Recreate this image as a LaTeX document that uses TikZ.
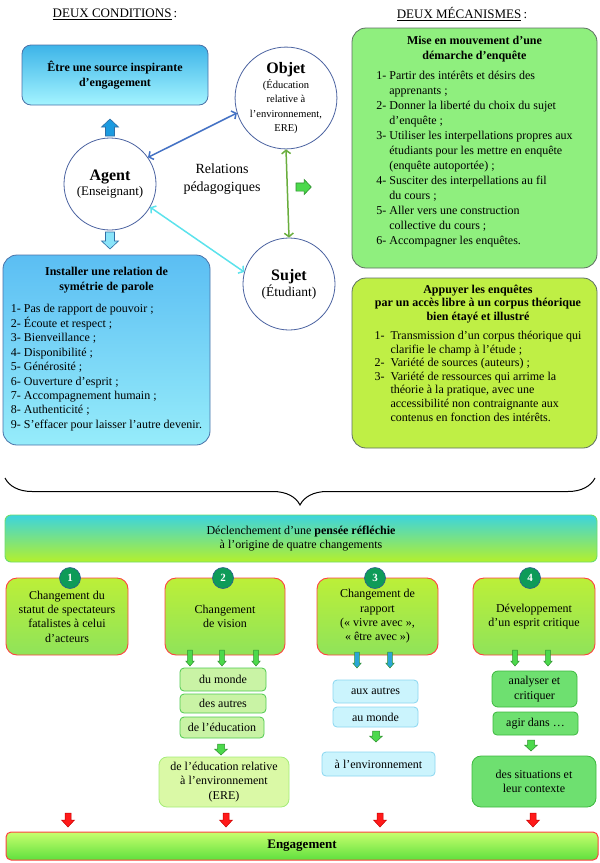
\documentclass[tikz,border=0pt]{standalone}
\usepackage{fontspec}
\setmainfont{Liberation Serif}
\usetikzlibrary{positioning,arrows.meta,decorations.pathreplacing}

\definecolor{bleuHaut}{HTML}{3DB4E8}
\definecolor{bleuBas}{HTML}{A4F4FF}
\definecolor{bordBleu}{HTML}{4A72A8}
\definecolor{flecheBleue}{HTML}{1C9BE0}
\definecolor{flecheCyan}{HTML}{8AE4FA}
\definecolor{bordFleche}{HTML}{2F6EA5}
\definecolor{paroleHaut}{HTML}{5BBEF3}
\definecolor{paroleBas}{HTML}{96ECFA}
\definecolor{cercleBord}{HTML}{4A62A0}
\definecolor{vertClair}{HTML}{8FEF7E}
\definecolor{bordGris}{HTML}{5E6E63}
\definecolor{jauneVert}{HTML}{BFEF45}
\definecolor{relBleu}{HTML}{4472C4}
\definecolor{relCyan}{HTML}{5CE2EC}
\definecolor{relVert}{HTML}{6AAE3E}
\definecolor{flecheVerte}{HTML}{4CD94C}
\definecolor{bordVert}{HTML}{2F8F2F}
\definecolor{banniereHaut}{HTML}{3CD4DE}
\definecolor{banniereMilieu}{HTML}{6FDFA0}
\definecolor{banniereBas}{HTML}{B4F02C}
\definecolor{bordBanniere}{HTML}{6CDC6C}
\definecolor{chgHaut}{HTML}{BCEF38}
\definecolor{chgBas}{HTML}{8FE35A}
\definecolor{bordRouge}{HTML}{FF4040}
\definecolor{numVert}{HTML}{0E9B58}
\definecolor{numBord}{HTML}{2B5C8E}
\definecolor{sousVert}{HTML}{C9F3A5}
\definecolor{bordSousVert}{HTML}{4FC94F}
\definecolor{ereFond}{HTML}{DAF9A6}
\definecolor{ereBord}{HTML}{A5EC78}
\definecolor{sousCyan}{HTML}{CBF4FD}
\definecolor{bordCyan}{HTML}{8AD6F0}
\definecolor{sousVertFonce}{HTML}{6EE070}
\definecolor{bordVertFonce}{HTML}{3DB83F}
\definecolor{flecheTeal}{HTML}{2AA6D6}
\definecolor{rougeFleche}{HTML}{FF1A1A}
\definecolor{bordRougeFonce}{HTML}{C80000}
\definecolor{engHaut}{HTML}{C8FF6E}
\definecolor{engBas}{HTML}{5FE03E}

\def\grand{\fontsize{16}{18}\selectfont\bfseries}
\def\petit{\fontsize{10.5}{12.8}\selectfont}

\begin{document}
\begin{tikzpicture}[x=1pt, y=-1pt,
    every node/.style = {font=\fontsize{12}{14.4}\selectfont, inner sep=0pt, align=center},
    titre/.style = {font=\fontsize{13}{15}\selectfont},
    cercle/.style = {circle, draw=cercleBord, line width=0.8pt, fill=white},
    boite/.style = {rectangle, rounded corners=14pt, draw=bordGris, line width=0.8pt},
    changement/.style = {rectangle, rounded corners=11pt, draw=bordRouge, line width=0.9pt,
                         top color=chgHaut, bottom color=chgBas, minimum height=77pt},
    numero/.style = {circle, fill=numVert, draw=numBord, line width=0.6pt, text=white,
                     minimum size=21pt, font=\fontsize{11}{12}\selectfont\bfseries},
    petite/.style = {rectangle, rounded corners=4pt, line width=0.8pt},
    relation/.style = {line width=1.5pt, {Straight Barb[length=3.5pt,width=9pt]}-{Straight Barb[length=3.5pt,width=9pt]}},
    grosseFleche/.pic = {\draw[pic actions, line width=0.6pt] (-4.5,0) -- (4.5,0) -- (4.5,9) -- (8.5,9)
                         -- (0,17) -- (-8.5,9) -- (-4.5,9) -- cycle;},
    fineFleche/.pic = {\draw[pic actions, line width=0.5pt] (-2.3,0) -- (2.3,0) -- (2.3,11) -- (4.3,11)
                       -- (0,16) -- (-4.3,11) -- (-2.3,11) -- cycle;},
    courteFleche/.pic = {\draw[pic actions, line width=0.5pt] (-3.5,0) -- (3.5,0) -- (3.5,5) -- (6.5,5)
                         -- (0,11) -- (-6.5,5) -- (-3.5,5) -- cycle;},
    rougeFl/.pic = {\draw[pic actions, line width=0.5pt] (-3,0) -- (3,0) -- (3,7) -- (6.5,7)
                    -- (0,14) -- (-6.5,7) -- (-3,7) -- cycle;}]

\useasboundingbox (0,0) rectangle (600,863);

% titres
\node[titre] (titreCond) at (115,14) {\underline{DEUX CONDITIONS}\,:};
\node[titre] (titreMeca) at (462,14) {\underline{DEUX MÉCANISMES}\,:};

% les deux conditions
\node[rectangle, rounded corners=9pt, draw=bordBleu, line width=0.8pt, top color=bleuHaut,
      bottom color=bleuBas, minimum width=186pt, minimum height=60pt] (source) at (115,75)
      {\bfseries Être une source inspirante\\ \bfseries d’engagement};
\pic[fill=flecheBleue, draw=bordFleche, rotate=180] at (110,136) {grosseFleche};

\node[cercle, minimum size=92pt] (agent) at (110,184)
      {\grand Agent\\ \fontsize{13}{15}\selectfont (Enseignant)};
\pic[fill=flecheCyan, draw=bordFleche] at (110,232) {grosseFleche};

\node[rectangle, rounded corners=14pt, draw=bordBleu, line width=0.8pt, top color=paroleHaut,
      bottom color=paroleBas, minimum width=207pt, minimum height=190pt] (parole) at (106.5,350)
      {\bfseries Installer une relation de\\ \bfseries symétrie de parole\\[9pt]
       \begin{tabular}{@{}l@{}}
       1- Pas de rapport de pouvoir ;\\
       2- Écoute et respect ;\\
       3- Bienveillance ;\\
       4- Disponibilité ;\\
       5- Générosité ;\\
       6- Ouverture d’esprit ;\\
       7- Accompagnement humain ;\\
       8- Authenticité ;\\
       9- S’effacer pour laisser l’autre devenir.
       \end{tabular}};

% relations pedagogiques
\node[cercle, minimum size=89pt] (objet) at (286,98)
      {\grand Objet\\[1pt] \petit (Éducation\\ \petit relative à\\ \petit l’environnement,\\ \petit ERE)};
\node[cercle, minimum size=92pt] (sujet) at (289,284)
      {\grand Sujet\\ \fontsize{13.5}{16}\selectfont (Étudiant)};
\node[font=\fontsize{14}{18}\selectfont] (relations) at (222,179) {Relations\\ pédagogiques};

\draw[relation, relBleu] (agent.35) -- (objet.197);
\draw[relation, relCyan] (agent.-30) -- (sujet.165);
\draw[relation, relVert] (objet.south) -- (sujet.north);
\pic[fill=flecheVerte, draw=bordVert, rotate=90, scale=0.9] at (296,187) {grosseFleche};

% les deux mecanismes
\node[boite, fill=vertClair, minimum width=245pt, minimum height=240pt] (enquete) at (474.5,148) {};
\node[font=\fontsize{12}{15}\selectfont] (enqueteTexte) at (474.5,142.5)
      {\bfseries Mise en mouvement d’une\\ \bfseries démarche d’enquête\\[6pt]
       \begin{tabular}{@{}l@{\ }l@{}}
       1- & Partir des intérêts et désirs des\\
          & apprenants ;\\
       2- & Donner la liberté du choix du sujet\\
          & d’enquête ;\\
       3- & Utiliser les interpellations propres aux\\
          & étudiants pour les mettre en enquête\\
          & (enquête autoportée) ;\\
       4- & Susciter des interpellations au fil\\
          & du cours ;\\
       5- & Aller vers une construction\\
          & collective du cours ;\\
       6- & Accompagner les enquêtes.
       \end{tabular}};

\node[boite, fill=jauneVert, minimum width=245pt, minimum height=170pt] (appui) at (474.5,363) {};
\node[font=\fontsize{12}{13.6}\selectfont] (appuiTexte) at (478,355)
      {\bfseries Appuyer les enquêtes\\ \bfseries par un accès libre à un corpus théorique\\
       \bfseries bien étayé et illustré\\[6pt]
       \begin{tabular}{@{}l@{\hspace{6pt}}l@{}}
       1- & Transmission d’un corpus théorique qui\\
          & clarifie le champ à l’étude ;\\
       2- & Variété de sources (auteurs) ;\\
       3- & Variété de ressources qui arrime la\\
          & théorie à la pratique, avec une\\
          & accessibilité non contraignante aux\\
          & contenus en fonction des intérêts.
       \end{tabular}};

% accolade
\coordinate (accG) at (5,478);
\coordinate (accD) at (595,478);
\draw[decorate, decoration={brace, amplitude=27pt, mirror}, line width=1pt] (accG) -- (accD);

% pensee reflechie
\node[rectangle, rounded corners=6pt, draw=bordBanniere, line width=0.9pt, top color=banniereHaut,
      middle color=banniereMilieu, bottom color=banniereBas, minimum width=592pt,
      minimum height=47pt] (pensee) at (301,538.5)
      {Déclenchement d’une \textbf{pensée réfléchie}\\ à l’origine de quatre changements};

% quatre changements
\node[changement, minimum width=122pt] (chg1) at (67,616.5)
      {Changement du\\ statut de spectateurs\\ fatalistes à celui\\ d’acteurs};
\node[changement, minimum width=120pt] (chg2) at (225,616.5) {Changement\\ de vision};
\node[changement, minimum width=121pt] (chg3) at (377.5,616.5)
      {Changement de\\ rapport\\ («~vivre avec~»,\\ «~être avec~»)};
\node[changement, minimum width=122pt] (chg4) at (534,616.5) {Développement\\ d’un esprit critique};

\node[numero] (num1) at (70,578) {1};
\node[numero] (num2) at (223,578) {2};
\node[numero] (num3) at (375,578) {3};
\node[numero] (num4) at (530,578) {4};

% changement de vision
\pic[fill=flecheVerte, draw=bordVert] at (190,650) {fineFleche};
\pic[fill=flecheVerte, draw=bordVert] at (222,650) {fineFleche};
\pic[fill=flecheVerte, draw=bordVert] at (256,650) {fineFleche};
\node[petite, fill=sousVert, draw=bordSousVert, minimum width=86pt, minimum height=23pt] (monde) at (223,679.5) {du monde};
\node[petite, fill=sousVert, draw=bordSousVert, minimum width=86pt, minimum height=19pt] (autres) at (223,703.5) {des autres};
\node[petite, fill=sousVert, draw=bordSousVert, minimum width=84pt, minimum height=21pt] (education) at (222,727.5) {de l’éducation};
\pic[fill=flecheVerte, draw=bordVert] at (221,744) {courteFleche};
\node[petite, rounded corners=8pt, fill=ereFond, draw=ereBord, minimum width=130pt, minimum height=50pt] (ere) at (224,782)
      {de l’éducation relative\\ à l’environnement\\ (ERE)};

% changement de rapport
\pic[fill=flecheTeal, draw=bordVert] at (357,652) {fineFleche};
\pic[fill=flecheTeal, draw=bordVert] at (390,652) {fineFleche};
\node[petite, fill=sousCyan, draw=bordCyan, minimum width=85pt, minimum height=23pt] (auxAutres) at (375.5,691.5) {aux autres};
\node[petite, fill=sousCyan, draw=bordCyan, minimum width=85pt, minimum height=20pt] (auMonde) at (375.5,717) {au monde};
\pic[fill=flecheVerte, draw=bordVert] at (376,731) {courteFleche};
\node[petite, fill=sousCyan, draw=bordCyan, minimum width=113pt, minimum height=24pt] (environnement) at (378.5,764) {à l’environnement};

% esprit critique
\pic[fill=flecheVerte, draw=bordVert] at (515,650) {fineFleche};
\pic[fill=flecheVerte, draw=bordVert] at (548,650) {fineFleche};
\node[petite, rounded corners=6pt, fill=sousVertFonce, draw=bordVertFonce, minimum width=85pt, minimum height=36pt] (analyser) at (534.5,689)
      {analyser et\\ critiquer};
\node[petite, fill=sousVertFonce, draw=bordVertFonce, minimum width=85pt, minimum height=23pt] (agir) at (535.5,723.5) {agir dans …};
\pic[fill=flecheVerte, draw=bordVert] at (531,740) {courteFleche};
\node[petite, rounded corners=9pt, fill=sousVertFonce, draw=bordVertFonce, minimum width=124pt, minimum height=51pt] (situations) at (534,781.5)
      {des situations et\\ leur contexte};

% engagement
\pic[fill=rougeFleche, draw=bordRougeFonce] at (68,813) {rougeFl};
\pic[fill=rougeFleche, draw=bordRougeFonce] at (226,813) {rougeFl};
\pic[fill=rougeFleche, draw=bordRougeFonce] at (380,813) {rougeFl};
\pic[fill=rougeFleche, draw=bordRougeFonce] at (533,813) {rougeFl};
\node[rectangle, rounded corners=5pt, draw=bordRouge, line width=1pt, top color=engHaut,
      bottom color=engBas, minimum width=592pt, minimum height=28pt,
      font=\fontsize{13}{15}\selectfont\bfseries] (engagement) at (302,846) {Engagement};

\end{tikzpicture}
\end{document}
